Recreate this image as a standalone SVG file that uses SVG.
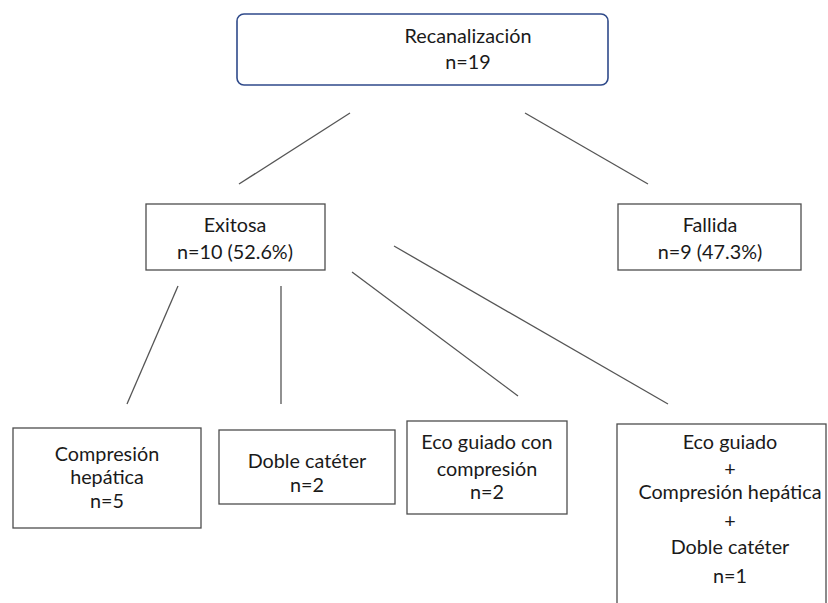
<svg xmlns="http://www.w3.org/2000/svg" width="828" height="603" viewBox="0 0 828 603">
<style>
.box{fill:#fff;stroke:#4d4d4d;stroke-width:1.3}
.top{fill:#fff;stroke:#2f4a8a;stroke-width:1.6}
.t{font-family:Lato,"Open Sans","Liberation Sans",sans-serif;font-size:19.8px;fill:#1a1a1a;text-anchor:middle}
.c{stroke:#555;stroke-width:1.3;fill:none}
</style>
<rect width="828" height="603" fill="#fff"/>
<g id="connectors">
<line class="c" x1="350" y1="113" x2="239" y2="184"/>
<line class="c" x1="525" y1="113" x2="648" y2="184"/>
<line class="c" x1="178" y1="286" x2="127" y2="404"/>
<line class="c" x1="281" y1="286" x2="281" y2="404"/>
<line class="c" x1="352" y1="272" x2="518" y2="396"/>
<line class="c" x1="394" y1="246" x2="668" y2="404"/>
</g>
<g id="recanalizacion">
<rect class="top" x="237" y="14" width="371" height="71" rx="7"/>
<text class="t" x="468" y="43">Recanalización</text>
<text class="t" x="468" y="69">n=19</text>
</g>
<g id="exitosa">
<rect class="box" x="146" y="204" width="179" height="66"/>
<text class="t" x="235" y="232">Exitosa</text>
<text class="t" x="235" y="259">n=10 (52.6%)</text>
</g>
<g id="fallida">
<rect class="box" x="618" y="204" width="183" height="66"/>
<text class="t" x="710" y="232">Fallida</text>
<text class="t" x="710" y="259">n=9 (47.3%)</text>
</g>
<g id="compresion">
<rect class="box" x="13" y="428" width="188" height="100"/>
<text class="t" x="107" y="461">Compresión</text>
<text class="t" x="107" y="484">hepática</text>
<text class="t" x="107" y="508">n=5</text>
</g>
<g id="doble">
<rect class="box" x="219" y="430" width="176" height="74"/>
<text class="t" x="307" y="468">Doble catéter</text>
<text class="t" x="307" y="492">n=2</text>
</g>
<g id="eco">
<rect class="box" x="407" y="421" width="160" height="93"/>
<text class="t" x="487" y="449">Eco guiado con</text>
<text class="t" x="487" y="476">compresión</text>
<text class="t" x="487" y="499">n=2</text>
</g>
<g id="combinado">
<rect class="box" x="617" y="424" width="209" height="190"/>
<text class="t" x="730" y="449">Eco guiado</text>
<text class="t" x="730" y="476">+</text>
<text class="t" x="730" y="499">Compresión hepática</text>
<text class="t" x="730" y="528">+</text>
<text class="t" x="730" y="554">Doble catéter</text>
<text class="t" x="730" y="583">n=1</text>
</g>
</svg>
